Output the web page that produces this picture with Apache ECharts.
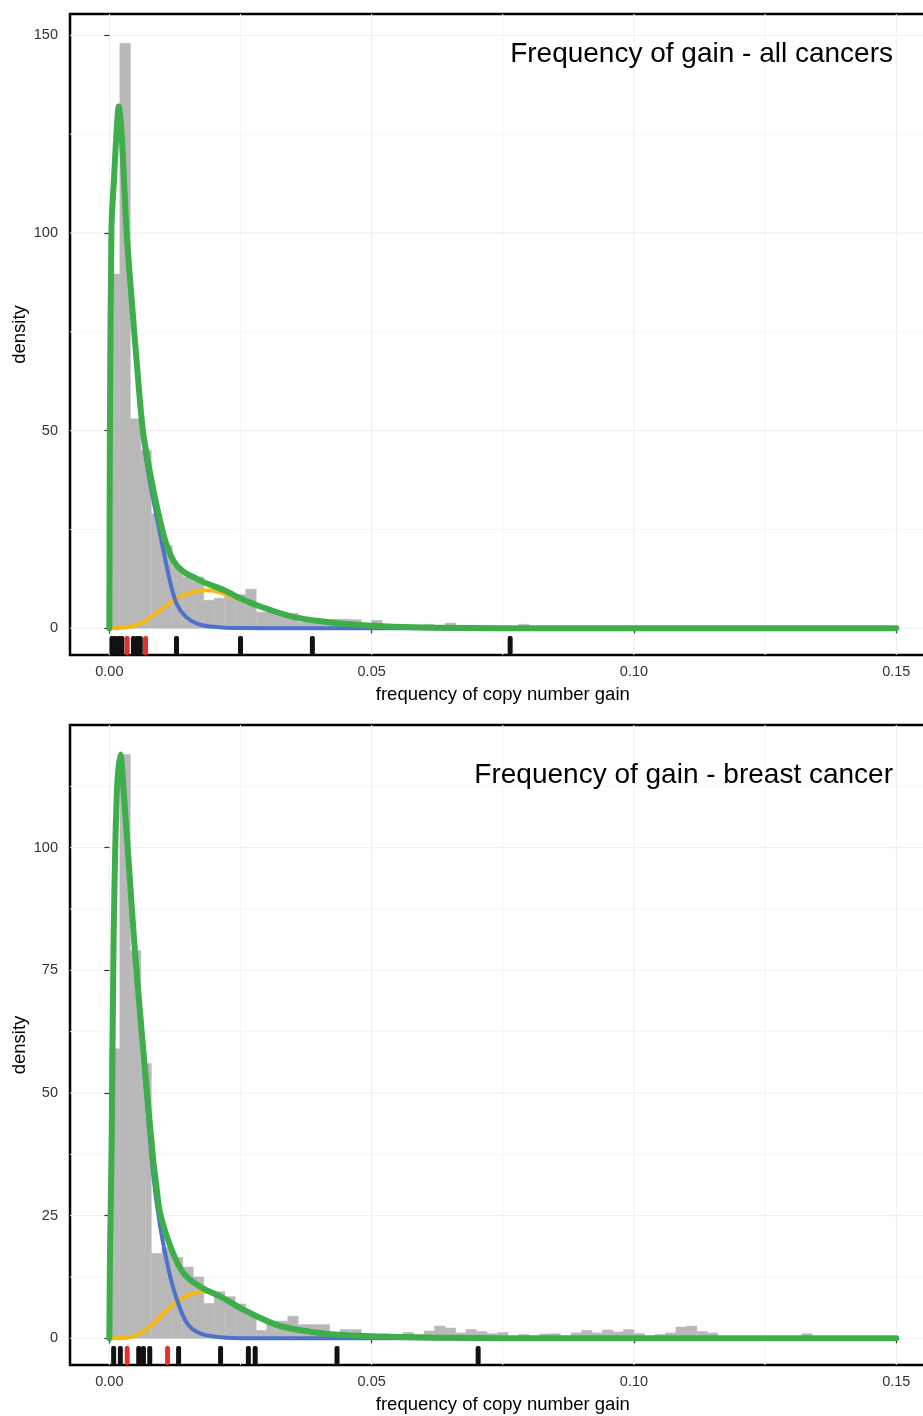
<!DOCTYPE html>
<html>
<head>
<meta charset="utf-8">
<script src="https://cdn.jsdelivr.net/npm/echarts@6/dist/echarts.min.js"></script>
<style>
  html, body { margin: 0; padding: 0; background: #fff; }
  #chart { width: 923px; height: 1416px; }
</style>
</head>
<body>
<div id="chart"></div>
<script>
// histogram bins start at 0, width 0.002
const binWidth = 0.002
const allHist = [89.6, 148, 53, 45, 29, 21, 15.6, 13, 13, 7.1, 7.6, 8.5, 8.5, 9.9, 4.1, 4.1, 4.0, 3.8, 1.6, 1.6,
  1.8, 2.3, 2.3, 2.2, 1.2, 2.0, 0.5, 0.5, 0.4, 0.4, 1.0, 0.4, 1.3, 0.3, 0.3, 0.3, 0.2, 0.2, 0.2, 1.0,
  0, 0, 0, 0, 0.3, 0, 0, 0, 0, 0, 0, 0, 0, 0, 0, 0, 0, 0, 0, 0,
  0, 0, 0, 0, 0, 0, 0, 0, 0, 0, 0, 0, 0, 0, 0]
const breastHist = [59, 119, 79, 56, 17.3, 18.5, 16.5, 14.5, 12.5, 7.1, 9.5, 8.5, 7, 5.1, 1.6, 3.5, 3.5, 4.5, 2.8, 2.8,
  2.8, 1.0, 1.8, 1.8, 0.6, 0.4, 0.4, 0.4, 1.2, 0.8, 1.5, 2.5, 2.1, 1.1, 1.8, 1.4, 0.95, 1.2, 0.3, 0.8,
  0.3, 0.9, 0.95, 0.4, 1.1, 1.6, 1.1, 1.7, 1.3, 1.8, 1.0, 0.3, 0.8, 1.1, 2.3, 2.5, 1.4, 1.1, 0.3, 0.3,
  0, 0, 0, 0, 0, 0, 0.95, 0, 0, 0, 0, 0, 0, 0, 0]

// fitted curves
const allGreenX = [0, 0.0001, 0.0004, 0.0009, 0.0014, 0.0018, 0.0023, 0.0028, 0.0033, 0.0042, 0.0053, 0.0064, 0.0078, 0.0091,
  0.0105, 0.0117, 0.0129, 0.0145, 0.0161, 0.0186, 0.0218, 0.0243, 0.0288, 0.035, 0.0415, 0.0478, 0.054, 0.062, 0.075, 0.09, 0.15]
const allGreenY = [0, 47, 101, 114, 126, 132, 126, 113, 100, 84, 66, 50, 39, 30.5,
  22.8, 18.4, 15.8, 14, 12.9, 11.3, 9.7, 8.0, 5.5, 2.9, 1.6, 0.8, 0.4, 0.15, 0.03, 0, 0]
const allBlueX = [0, 0.0001, 0.0004, 0.0009, 0.0014, 0.0018, 0.0023, 0.0028, 0.0033, 0.0042, 0.0053, 0.0064, 0.0078, 0.0093,
  0.0105, 0.0118, 0.0129, 0.0145, 0.0167, 0.0198, 0.025, 0.035, 0.15]
const allBlueY = [0, 47, 101, 114, 126, 132, 126, 113, 100, 84, 65.5, 48.5, 36.5, 26.4,
  18.4, 10.6, 6.0, 3.0, 1.2, 0.4, 0.05, 0, 0]
const allOrangeX = [0, 0.003, 0.0065, 0.0097, 0.0129, 0.016, 0.0185, 0.0205, 0.0224, 0.0243, 0.0288, 0.035, 0.0415,
  0.0478, 0.054, 0.062, 0.075, 0.09, 0.15]
const allOrangeY = [0, 0.2, 1.6, 4.6, 7.6, 9.2, 9.6, 9.3, 8.4, 7.6, 5.3, 2.8, 1.5,
  0.8, 0.4, 0.15, 0.03, 0, 0]

const breastGreenX = [0, 0.00013, 0.00045, 0.0008, 0.0014, 0.0021, 0.0028, 0.0037, 0.0048, 0.0063, 0.0083, 0.0089, 0.0097,
  0.0119, 0.0142, 0.0173, 0.0212, 0.0256, 0.032, 0.0383, 0.0446, 0.054, 0.062, 0.075, 0.09, 0.15]
const breastGreenY = [0, 18, 40, 80, 110.4, 119, 110.4, 96.9, 80, 60.8, 37, 31.6, 25.4,
  18, 13.2, 10.5, 8.5, 5.8, 2.7, 1.35, 0.67, 0.3, 0.12, 0.03, 0, 0]
const breastBlueX = [0, 0.00013, 0.00045, 0.0008, 0.0014, 0.0021, 0.0028, 0.0037, 0.0048, 0.0063, 0.0083, 0.0097,
  0.0116, 0.0129, 0.0148, 0.0173, 0.0212, 0.027, 0.15]
const breastBlueY = [0, 18, 40, 80, 110.4, 119, 110.4, 96.9, 80, 59.5, 34, 22.7,
  12.6, 7.8, 3.1, 1.0, 0.2, 0, 0]
const breastOrangeX = [0, 0.0034, 0.0065, 0.0097, 0.0129, 0.016, 0.0183, 0.0205, 0.0212, 0.0256, 0.032, 0.0383, 0.0446,
  0.054, 0.062, 0.075, 0.09, 0.15]
const breastOrangeY = [0, 0.1, 1.35, 4.4, 7.5, 9.2, 9.5, 9.0, 8.5, 5.8, 2.7, 1.35, 0.67,
  0.3, 0.12, 0.03, 0, 0]

// rug marks
const allRugBlack = [0.0005, 0.0011, 0.0018, 0.0024, 0.0046, 0.0053, 0.0059, 0.0128, 0.025, 0.0387, 0.0764]
const allRugRed = [0.0034, 0.0069]
const breastRugBlack = [0.00082, 0.0021, 0.0056, 0.0065, 0.0077, 0.0132, 0.0212, 0.0265, 0.0278, 0.0434, 0.0703]
const breastRugRed = [0.0034, 0.0111]

const xTicks = [0, 0.05, 0.10, 0.15]
const xMinor = [0.025, 0.075, 0.125]
const allYTicks = [0, 50, 100, 150]
const allYMinor = [25, 75, 125]
const breastYTicks = [0, 25, 50, 75, 100]
const breastYMinor = [12.5, 37.5, 62.5, 87.5, 112.5]
const titles = ['Frequency of gain - all cancers', 'Frequency of gain - breast cancer']

const font = '"Liberation Sans", Arial, Helvetica, sans-serif'
const zip = (xs, ys) => xs.map((x, i) => [x, ys[i]])

const gridLines = (idx, values, dir, color) => ({
  type: 'custom', xAxisIndex: idx, yAxisIndex: idx, silent: true, z: 0,
  data: values.map(v => [v]),
  renderItem: (params, api) => {
    const cs = params.coordSys
    const v = api.value(0)
    if (dir === 'x') {
      const x = api.coord([v, 0])[0]
      return { type: 'line', shape: { x1: x, y1: cs.y, x2: x, y2: cs.y + cs.height }, style: { stroke: color, lineWidth: 1 } }
    }
    const y = api.coord([0, v])[1]
    return { type: 'line', shape: { x1: cs.x, y1: y, x2: cs.x + cs.width, y2: y }, style: { stroke: color, lineWidth: 1 } }
  }
})

const histSeries = (idx, hist) => ({
  type: 'custom', xAxisIndex: idx, yAxisIndex: idx, silent: true, z: 1,
  data: hist.map((h, k) => [k * binWidth, (k + 1) * binWidth, h]),
  encode: { x: [0, 1], y: 2 },
  renderItem: (params, api) => {
    const p0 = api.coord([api.value(0), api.value(2)])
    const p1 = api.coord([api.value(1), 0])
    return {
      type: 'rect',
      shape: { x: p0[0], y: p0[1], width: p1[0] - p0[0], height: p1[1] - p0[1] },
      style: { fill: '#b8b8b8', stroke: '#b8b8b8', lineWidth: 0.5 }
    }
  }
})

const lineSeries = (idx, xs, ys, color, width, z) => ({
  type: 'line', xAxisIndex: idx, yAxisIndex: idx, z,
  data: zip(xs, ys),
  showSymbol: false, smooth: 0.3, silent: true,
  lineStyle: { color, width, cap: 'round', join: 'round' }
})

const rugSeries = (idx, values, color) => ({
  type: 'custom', xAxisIndex: idx, yAxisIndex: idx, silent: true, z: 6,
  data: values.map(v => [v]),
  renderItem: (params, api) => {
    const cs = params.coordSys
    const x = api.coord([api.value(0), 0])[0]
    return {
      type: 'rect',
      shape: { x: x - 2.5, y: cs.y + cs.height - 19, width: 5, height: 19, r: 2 },
      style: { fill: color }
    }
  }
})

const panels = [
  { hist: allHist, g: [allGreenX, allGreenY], b: [allBlueX, allBlueY], o: [allOrangeX, allOrangeY],
    black: allRugBlack, red: allRugRed, yTicks: allYTicks, yMinor: allYMinor, yMin: -6.76, yMax: 155.4 },
  { hist: breastHist, g: [breastGreenX, breastGreenY], b: [breastBlueX, breastBlueY], o: [breastOrangeX, breastOrangeY],
    black: breastRugBlack, red: breastRugRed, yTicks: breastYTicks, yMinor: breastYMinor, yMin: -5.44, yMax: 125.0 }
]

const series = []
panels.forEach((p, i) => {
  series.push(gridLines(i, xMinor, 'x', '#f6f6f6'))
  series.push(gridLines(i, p.yMinor, 'y', '#f6f6f6'))
  series.push(gridLines(i, xTicks, 'x', '#ededed'))
  series.push(gridLines(i, p.yTicks, 'y', '#ededed'))
  series.push(histSeries(i, p.hist))
  series.push(lineSeries(i, p.o[0], p.o[1], '#f5b915', 4, 3))
  series.push(lineSeries(i, p.b[0], p.b[1], '#4e72c9', 4, 4))
  series.push(lineSeries(i, p.g[0], p.g[1], '#3dae49', 6, 5))
  series.push(rugSeries(i, p.black, '#111111'))
  series.push(rugSeries(i, p.red, '#e2322e'))
})

const option = {
  animation: false,
  backgroundColor: '#fff',
  textStyle: { fontFamily: font },
  grid: [
    { left: 70, top: 14, width: 865.6, height: 641, outerBoundsMode: 'none', show: true,
      borderColor: '#000', borderWidth: 2.5, backgroundColor: 'transparent' },
    { left: 70, top: 725, width: 865.6, height: 640, outerBoundsMode: 'none', show: true,
      borderColor: '#000', borderWidth: 2.5, backgroundColor: 'transparent' }
  ],
  xAxis: panels.map((p, i) => ({
    type: 'value', gridIndex: i, min: -0.0075, max: 0.1575,
    name: 'frequency of copy number gain', nameLocation: 'middle', nameGap: 30,
    nameTextStyle: { fontSize: 18.5, color: '#000', fontFamily: font },
    axisLine: { show: false },
    axisTick: { show: true, customValues: xTicks, length: 5, lineStyle: { color: '#333', width: 1.2 } },
    axisLabel: { customValues: xTicks, formatter: v => v.toFixed(2), fontSize: 14.5, color: '#333', margin: 9, fontFamily: font },
    splitLine: { show: false }
  })),
  yAxis: panels.map((p, i) => ({
    type: 'value', gridIndex: i, min: p.yMin, max: p.yMax,
    name: 'density', nameLocation: 'middle', nameGap: 41, nameMoveOverlap: false,
    nameTextStyle: { fontSize: 18.5, color: '#000', fontFamily: font },
    axisLine: { show: false },
    axisTick: { show: true, customValues: p.yTicks, length: 5, lineStyle: { color: '#333', width: 1.2 } },
    axisLabel: { customValues: p.yTicks, fontSize: 14.5, color: '#333', margin: 12, fontFamily: font },
    splitLine: { show: false }
  })),
  graphic: titles.map((t, i) => ({
    type: 'text', right: 30, top: [40, 761][i], z: 10,
    style: { text: t, font: '28px ' + font, fill: '#000' }
  })),
  series
}

echarts.init(document.getElementById('chart')).setOption(option)
</script>
</body>
</html>
